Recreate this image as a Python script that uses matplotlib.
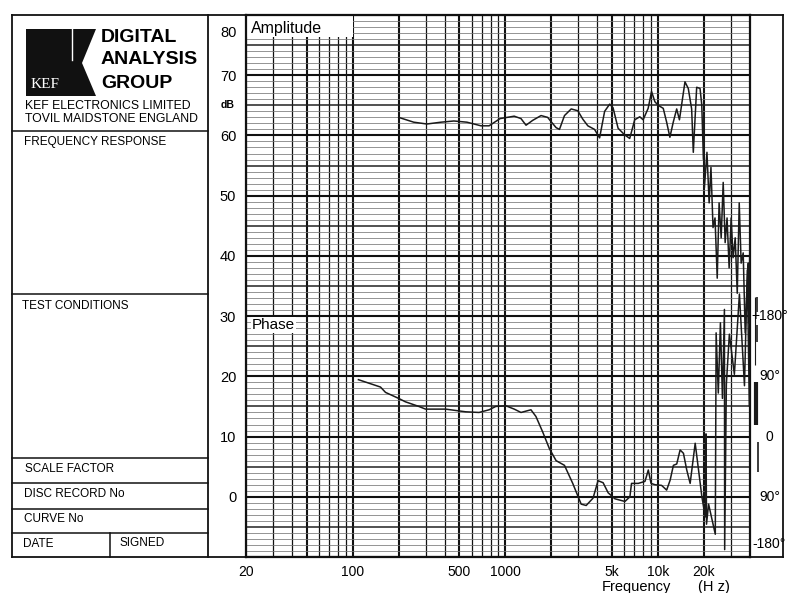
"""KEF Digital Analysis Group frequency response chart."""

import matplotlib
matplotlib.use("Agg")
import matplotlib.pyplot as plt
from matplotlib.lines import Line2D
from matplotlib.patches import Rectangle, Polygon
from matplotlib.ticker import NullLocator

plt.rcParams["font.family"] = ["Liberation Sans", "DejaVu Sans"]

W, H = 787, 593

# amplitude trace
amp_freq = [200, 251, 306, 378, 460, 560, 692, 782, 923, 1142,
            1265, 1365, 1508, 1712, 1892, 1990, 2148, 2260, 2438, 2698,
            2980, 3214, 3467, 3837, 4140, 4466, 4820, 5070, 5470, 6040,
            6520, 7030, 7590, 7980, 8610, 9060, 9530, 10020, 10810, 11380,
            11950, 12570, 13240, 13800, 15000, 15770, 16590, 17010, 17900, 18830,
            19320, 19820, 19950, 20100, 20900, 21600, 22200, 22900, 23600, 24400,
            25100, 25900, 26700, 27500, 28300, 29200, 30100, 31000, 32000, 33000,
            34000, 35000, 36100, 37200, 38400, 39000, 39500, 39900]
amp_db = [63.0, 62.2, 61.9, 62.2, 62.4, 62.2, 61.6, 61.6, 62.8, 63.2,
          62.8, 61.7, 62.5, 63.3, 63.0, 62.3, 61.3, 61.0, 63.3, 64.4,
          64.1, 62.7, 61.6, 61.0, 59.6, 64.0, 65.2, 64.6, 61.2, 60.1,
          59.5, 62.6, 63.1, 62.6, 64.5, 67.3, 65.6, 65.0, 64.5, 62.2,
          59.7, 62.2, 64.4, 62.6, 68.9, 67.8, 64.4, 57.2, 68.0, 67.8,
          65.1, 56.0, 63.5, 51.3, 57.2, 48.8, 54.7, 44.7, 46.3, 36.3,
          48.8, 43.0, 52.2, 42.2, 46.3, 38.0, 46.3, 39.7, 43.0, 33.8,
          48.8, 38.8, 40.5, 27.2, 35.5, 38.8, 28.8, 42.5]

# phase trace (degrees)
phase_freq = [109, 152, 164, 200, 221, 271, 300, 406, 549, 672,
              782, 865, 1007, 1143, 1265, 1470, 1585, 1754, 1941, 2148,
              2437, 2761, 3135, 3382, 3750, 4045, 4365, 4709, 5213, 6066,
              6537, 6700, 7415, 8207, 8630, 8992, 9548, 10550, 11380, 12000,
              12600, 13250, 13940, 14660, 15410, 16220, 17500, 18410, 19360, 20370,
              20600, 20760, 21420, 23700, 24000, 24800, 25600, 26400, 27200, 27300,
              28000, 29300, 31600, 34100, 36800, 38400, 39600]
phase_deg = [85, 74, 66, 57, 52, 45, 41, 41, 37, 36,
             40, 45, 46, 41, 36, 40, 30, 7, -18, -36,
             -43, -70, -101, -103, -92, -66, -69, -84, -93, -97,
             -90, -70, -70, -67, -50, -70, -72, -73, -80, -65,
             -43, -41, -20, -25, -50, -70, -10, -50, -90, -120,
             4, -131, -101, -146, 155, 65, 170, 57, 190, -169,
             78, 153, 93, 213, 76, 249, 46]

# phase strokes that run past the right edge of the grid
edge_freq = [43000, 44500, 44500, 44000, 45000]
edge_lo = [107, 141, 186, 17, -53]
edge_hi = [208, 167, 208, 82, -8]
edge_lw = [0.8, 1.2, 1.2, 3.0, 1.2]

freq_ticks = [20, 100, 500, 1000, 5000, 10000, 20000]
freq_labels = ["20", "100", "500", "1000", "5k", "10k", "20k"]
db_ticks = [0, 10, 20, 30, 40, 50, 60, 70]
phase_ticks = [180, 90, 0, -90, -160]
phase_labels = ["+180°", "90°", "0", "90°", "-180°"]


def fx(px):
    return px / W


def fy(py):
    return 1 - py / H


def fig_line(x0, y0, x1, y1, lw=1.3, color="#111"):
    fig.add_artist(Line2D([fx(x0), fx(x1)], [fy(y0), fy(y1)],
                          transform=fig.transFigure, color=color, lw=lw))


fig = plt.figure(figsize=(W / 100, H / 100), dpi=100)
fig.patch.set_facecolor("white")

# plot area
L, R, T, B = 246, 750, 15, 557
ax = fig.add_axes([fx(L), fy(B), (R - L) / W, (B - T) / H])
ax.set_xscale("log")
ax.set_xlim(20, 40000)
ax.set_ylim(-10, 80)

for dec in [10, 100, 1000, 10000]:
    for m in range(1, 10):
        f = m * dec
        if 20 <= f <= 40000:
            ax.axvline(f, color="#111", lw=1.5 if m in (1, 2, 5) else 0.9, zorder=1)
for v in range(-10, 81):
    if v % 10 == 0:
        ax.axhline(v, color="#111", lw=1.5, zorder=1)
    elif v % 5 == 0:
        ax.axhline(v, color="#222", lw=1.1, zorder=1)
    else:
        ax.axhline(v, color="#777", lw=0.55, zorder=1)

ax.set_xticks(freq_ticks, freq_labels)
ax.xaxis.set_minor_locator(NullLocator())
ax.set_yticks(db_ticks)
ax.yaxis.set_minor_locator(NullLocator())
ax.tick_params(length=0, labelsize=10.5, pad=7)
ax.tick_params(axis="x", labelsize=10, pad=6)
for s in ax.spines.values():
    s.set_linewidth(1.6)
    s.set_color("#111")

ax.annotate("80", xy=(0, 77), xycoords=("axes fraction", "data"), xytext=(-7, 0),
            textcoords="offset points", ha="right", va="center", fontsize=10.5)
ax.annotate("dB", xy=(0, 65), xycoords=("axes fraction", "data"), xytext=(-8, 0),
            textcoords="offset points", ha="right", va="center", fontsize=7.5,
            fontweight="bold")

ax.add_patch(Rectangle((20, 76.3), 80, 4, facecolor="white", edgecolor="none", zorder=1.5))
ax.text(21.6, 77.8, "Amplitude", fontsize=11.5, va="center", ha="left", zorder=2)
ax.text(21.9, 28.5, "Phase", fontsize=11, va="center", ha="left", zorder=2,
        bbox=dict(facecolor="white", edgecolor="none", pad=0.5))

ax.plot(amp_freq, amp_db, color="#1a1a1a", lw=1.1, zorder=3)

ax2 = ax.twinx()
ax2.set_ylim(-180, 630)
ax2.plot(phase_freq, phase_deg, color="#1a1a1a", lw=1.1, zorder=3)
ax2.vlines(edge_freq, edge_lo, edge_hi, color="#1a1a1a", lw=edge_lw, clip_on=False)
ax2.set_yticks([])
for s in ax2.spines.values():
    s.set_visible(False)
for d, lab in zip(phase_ticks, phase_labels):
    ax2.annotate(lab, xy=(1, d), xycoords=("axes fraction", "data"), xytext=(14, 0),
                 textcoords="offset points", ha="center", va="center", fontsize=10)

fig.text(fx(602), fy(591), "Frequency", fontsize=10.5, ha="left", va="baseline")
fig.text(fx(698), fy(591), "(H z)", fontsize=10.5, ha="left", va="baseline")

# outer frame and left-hand form
fig_line(12, 15, 783, 15)
fig_line(12, 557, 783, 557)
fig_line(12, 15, 12, 557)
fig_line(783, 15, 783, 557)
fig_line(208, 15, 208, 557)
for y in [131, 294, 458, 483, 509, 533]:
    fig_line(12, y, 208, y, lw=1.1)
fig_line(110, 533, 110, 557, lw=1.1)

logo = [(26, 29), (96, 29), (82, 63), (96, 96), (26, 96)]
fig.add_artist(Polygon([(fx(a), fy(b)) for a, b in logo], closed=True,
                       transform=fig.transFigure, facecolor="#111", edgecolor="none"))
fig_line(72, 29, 72, 60, lw=1.0, color="white")
fig.text(fx(31), fy(84), "KEF", color="white", fontsize=11,
         family=["Liberation Serif", "DejaVu Serif"], va="center", ha="left")

for txt, y in [("DIGITAL", 37), ("ANALYSIS", 60), ("GROUP", 83)]:
    fig.text(fx(101), fy(y), txt, fontsize=14, fontweight="bold",
             ha="left", va="center")
fig.text(fx(25), fy(106), "KEF ELECTRONICS LIMITED", fontsize=8.8,
         ha="left", va="center")
fig.text(fx(25), fy(119), "TOVIL MAIDSTONE ENGLAND", fontsize=8.8,
         ha="left", va="center")

for txt, x, y in [("FREQUENCY RESPONSE", 24, 142), ("TEST CONDITIONS", 22, 306),
                  ("SCALE FACTOR", 25, 469), ("DISC RECORD No", 24, 494),
                  ("CURVE No", 24, 519), ("DATE", 23, 544), ("SIGNED", 120, 543)]:
    fig.text(fx(x), fy(y), txt, fontsize=8.5, ha="left", va="center")

fig.savefig("out.png", dpi=100, facecolor="white")
